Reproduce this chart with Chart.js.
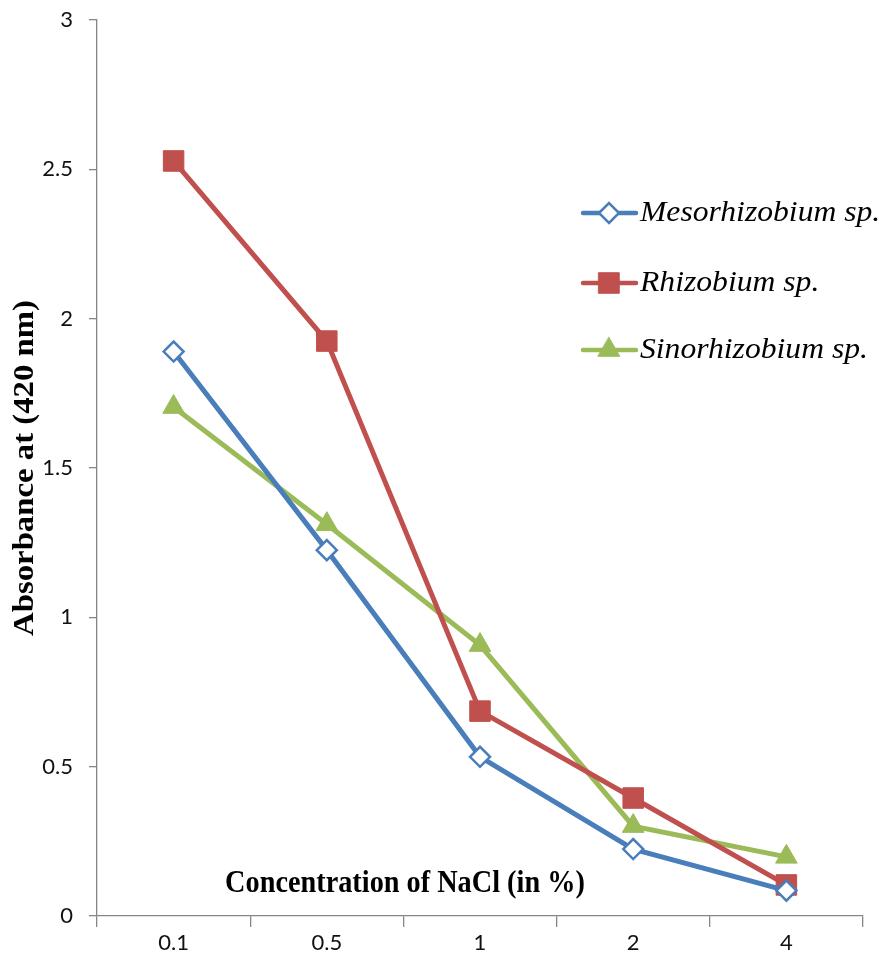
<!DOCTYPE html>
<html>
<head>
<meta charset="utf-8">
<script src="https://cdn.jsdelivr.net/npm/chart.js@4"></script>
<style>
html,body{margin:0;padding:0;background:#fff;}
#wrap{position:relative;width:884px;height:965px;}
</style>
</head>
<body>
<div id="wrap"><canvas id="c" width="884" height="965"></canvas></div>
<script>
const categories = ["0.1", "0.5", "1", "2", "4"];
const mesorhizobium = [1.89, 1.225, 0.533, 0.224, 0.085];
const rhizobium = [2.528, 1.925, 0.686, 0.395, 0.104];
const sinorhizobium = [1.704, 1.312, 0.907, 0.301, 0.198];
const seriesNames = ["Mesorhizobium sp.", "Rhizobium sp.", "Sinorhizobium sp."];
const yTitle = "Absorbance at (420 nm)";
const xTitle = "Concentration of NaCl (in %)";

const titlesPlugin = {
  id: 'titles',
  afterDraw(chart) {
    const ctx = chart.ctx;
    ctx.save();
    ctx.fillStyle = '#000';
    ctx.textAlign = 'center';
    ctx.textBaseline = 'middle';
    ctx.save();
    ctx.font = 'bold 28px "Liberation Serif"';
    ctx.translate(405, 884);
    ctx.scale(1.01, 1.1);
    ctx.fillText(xTitle, 0, 0);
    ctx.restore();
    ctx.save();
    ctx.font = 'bold 29px "Liberation Serif"';
    ctx.translate(26, 468);
    ctx.rotate(-Math.PI / 2);
    ctx.scale(1.13, 0.98);
    ctx.fillText(yTitle, 0, 0);
    ctx.restore();
    ctx.restore();
  }
};

const legendPlugin = {
  id: 'customLegend',
  afterDraw(chart) {
    const ctx = chart.ctx;
    const ys = [213, 283, 350];
    chart.data.datasets.forEach((ds, i) => {
      const y = ys[i];
      ctx.save();
      ctx.strokeStyle = ds.borderColor;
      ctx.lineWidth = 4.5;
      ctx.lineCap = 'round';
      ctx.beginPath();
      ctx.moveTo(583, y);
      ctx.lineTo(636, y);
      ctx.stroke();
      ctx.fillStyle = ds.pointBackgroundColor;
      ctx.strokeStyle = ds.pointBorderColor;
      ctx.lineWidth = ds.pointBorderWidth;
      Chart.helpers.drawPoint(ctx, {pointStyle: ds.pointStyle, rotation: 0, radius: ds.pointRadius, borderWidth: ds.pointBorderWidth}, 609, y);
      ctx.fillStyle = '#000';
      ctx.font = 'italic 28px "Liberation Serif"';
      ctx.textAlign = 'left';
      ctx.textBaseline = 'middle';
      ctx.save();
      ctx.translate(640, y);
      ctx.scale(1.13, 1.02);
      ctx.fillText(seriesNames[i], 0, 0);
      ctx.restore();
      ctx.restore();
    });
  }
};

new Chart(document.getElementById('c'), {
  type: 'line',
  data: {
    labels: categories,
    datasets: [
      {
        label: seriesNames[0], data: mesorhizobium,
        borderColor: '#4A7EBB', borderWidth: 5,
        pointStyle: 'rectRot', pointRadius: 10, pointHoverRadius: 10,
        pointBackgroundColor: '#ffffff', pointBorderColor: '#4A7EBB', pointBorderWidth: 2.5,
        tension: 0
      },
      {
        label: seriesNames[1], data: rhizobium,
        borderColor: '#C0504D', borderWidth: 5,
        pointStyle: 'rect', pointRadius: 14.5, pointHoverRadius: 14.5,
        pointBackgroundColor: '#C0504D', pointBorderColor: '#C0504D', pointBorderWidth: 1,
        tension: 0
      },
      {
        label: seriesNames[2], data: sinorhizobium,
        borderColor: '#9BBB59', borderWidth: 5,
        pointStyle: 'triangle', pointRadius: 12.5, pointHoverRadius: 12.5,
        pointBackgroundColor: '#9BBB59', pointBorderColor: '#9BBB59', pointBorderWidth: 1,
        tension: 0
      }
    ]
  },
  options: {
    responsive: false,
    animation: false,
    events: [],
    layout: { padding: { top: 20, right: 21, left: 0, bottom: 0 } },
    plugins: { legend: { display: false }, tooltip: { enabled: false } },
    scales: {
      x: {
        type: 'category',
        offset: true,
        grid: { offset: true, drawOnChartArea: false, drawTicks: true, tickLength: 11, color: '#868686', lineWidth: 1.3 },
        border: { color: '#868686', width: 1.3 },
        ticks: { color: '#111', font: { family: 'Lato', size: 22 }, padding: 3 },
        afterFit(s) { s.height = 49; s.paddingLeft = 0; s.paddingRight = 0; }
      },
      y: {
        min: 0, max: 3,
        ticks: { stepSize: 0.5, color: '#111', font: { family: 'Lato', size: 22 }, padding: 16,
          callback: (v) => String(Number(v)) },
        grid: { drawOnChartArea: false, drawTicks: true, tickLength: 8, color: '#868686', lineWidth: 1.3 },
        border: { color: '#868686', width: 1.3 },
        afterFit(s) { s.width = 97; s.paddingTop = 0; s.paddingBottom = 0; }
      }
    }
  },
  plugins: [titlesPlugin, legendPlugin]
});
</script>
</body>
</html>
